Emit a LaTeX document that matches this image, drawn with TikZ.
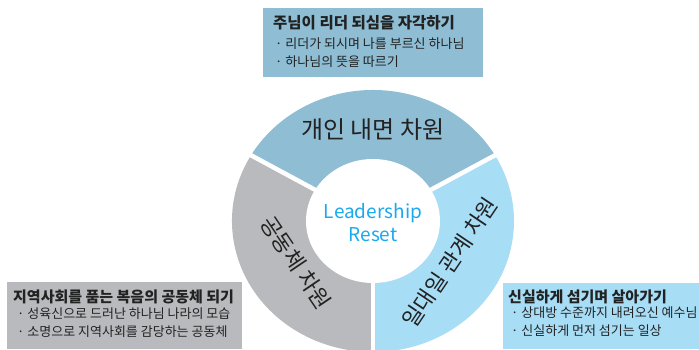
\documentclass[tikz,border=0pt]{standalone}
\usepackage{fontspec}
\setmainfont{Noto Sans CJK KR}
\usepackage{xcolor}
\usepackage{tikz}
\definecolor{inward}{HTML}{8EBDD4}
\definecolor{together}{HTML}{B9BABD}
\definecolor{oneone}{HTML}{A8DDF6}
\definecolor{core}{HTML}{1BA9EE}
\definecolor{ink}{HTML}{222222}
\definecolor{paper}{HTML}{FFFFFF}
\tikzset{
  gap/.style={draw=paper, line width=4.5pt},
  ringtxt/.style={text=ink, inner sep=0pt, font=\fontsize{22}{26}\selectfont},
  head/.style={text=ink, inner sep=0pt, anchor=west, font=\fontsize{15}{18}\selectfont\bfseries},
  item/.style={text=ink, inner sep=0pt, anchor=west, font=\fontsize{13}{16}\selectfont},
  corelbl/.style={text=core, inner sep=0pt, align=center, font=\fontsize{19}{23}\selectfont}
}

\begin{document}
\begin{tikzpicture}[x=1pt, y=1pt]
  \useasboundingbox (-373,-128) rectangle (326,221);

  % three sectors of the ring
  \fill[inward] (0,0) -- (30:141 and 131) arc[start angle=30, end angle=150, x radius=141, y radius=131] -- cycle;
  \fill[together] (0,0) -- (150:141 and 131) arc[start angle=150, end angle=270, x radius=141, y radius=131] -- cycle;
  \fill[oneone] (0,0) -- (270:141 and 131) arc[start angle=270, end angle=390, x radius=141, y radius=131] -- cycle;
  \foreach \a in {30,150,270}
    \draw[gap] (0,0) -- (\a:150 and 140);
  \fill[paper] (0,0) ellipse[x radius=67, y radius=62];

  \node[corelbl] (core) at (0,-2) {Leadership\\Reset};

  \node[ringtxt, font=\fontsize{24}{28}\selectfont] (inwardlbl) at (0,91) {개인 내면 차원};
  \node[ringtxt, rotate=-56] (togetherlbl) at (210:89 and 83) {공동체 차원};
  \node[ringtxt, rotate=56] (oneonelbl) at (-30:89 and 83) {일대일 관계 차원};

  % top panel
  \fill[inward] (-110,144) rectangle (110,213);
  \node[head, font=\fontsize{15.5}{18}\selectfont\bfseries] (inwardhead) at (-100,198) {주님이 리더 되심을 자각하기};
  \node[item] (inward1) at (-98,177) {· 리더가 되시며 나를 부르신 하나님};
  \node[item] (inward2) at (-98,159) {· 하나님의 뜻을 따르기};

  % bottom left panel
  \fill[together] (-366,-128) rectangle (-131,-61);
  \node[head] (togetherhead) at (-360,-76) {지역사회를 품는 복음의 공동체 되기};
  \node[item] (together1) at (-356,-93) {· 성육신으로 드러난 하나님 나라의 모습};
  \node[item] (together2) at (-356,-111) {· 소명으로 지역사회를 감당하는 공동체};

  % bottom right panel
  \fill[oneone] (130,-128) rectangle (326,-62);
  \node[head] (oneonehead) at (135,-76) {신실하게 섬기며 살아가기};
  \node[item] (oneone1) at (138,-92) {· 상대방 수준까지 내려오신 예수님};
  \node[item] (oneone2) at (138,-110) {· 신실하게 먼저 섬기는 일상};
\end{tikzpicture}
\end{document}
